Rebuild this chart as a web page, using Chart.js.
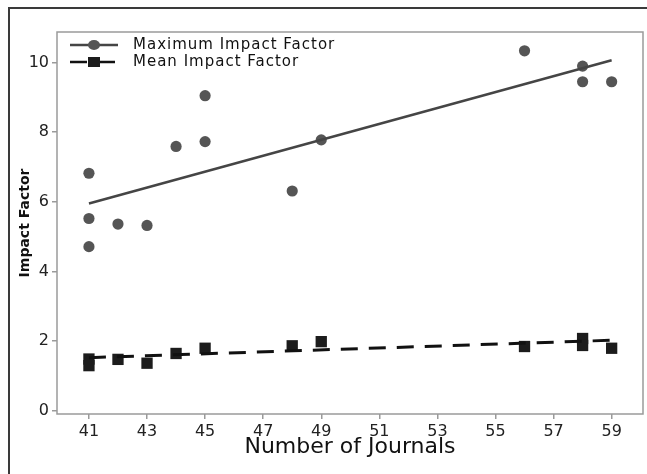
<!DOCTYPE html>
<html>
<head>
<meta charset="utf-8">
<script src="https://cdn.jsdelivr.net/npm/chart.js@4.4.1/dist/chart.umd.min.js"></script>
<style>
    html, body { margin: 0; padding: 0; background: #fff; overflow: hidden; }
    #wrap { position: relative; width: 647px; height: 474px; overflow: hidden; }
    #frame { position: absolute; left: 8px; top: 7px; right: 0; bottom: 0; border-top: 2px solid #3a3a3a; border-left: 2px solid #3a3a3a; pointer-events: none; }
    canvas { position: absolute; left: 0; top: 0; }
</style>
</head>
<body>
<div id="wrap">
    <canvas id="chart" width="652" height="474"></canvas>
    <div id="frame"></div>
</div>
<script>
// Number of journals vs impact factor
const maxX = [41, 41, 41, 42, 43, 44, 45, 45, 48, 49, 56, 58, 58, 59];
const maxY = [6.82, 5.52, 4.71, 5.36, 5.32, 7.59, 9.05, 7.73, 6.31, 7.78, 10.34, 9.9, 9.45, 9.45];
const meanX = [41, 41, 42, 43, 44, 45, 48, 49, 56, 58, 58, 59];
const meanY = [1.48, 1.29, 1.47, 1.36, 1.64, 1.79, 1.86, 1.98, 1.84, 2.07, 1.87, 1.79];
// fitted lines
const fitX = [41, 59];
const maxFitY = [5.95, 10.07];
const meanFitY = [1.52, 2.02];
const xTicks = [41, 43, 45, 47, 49, 51, 53, 55, 57, 59];
const yTicks = [0, 2, 4, 6, 8, 10];
const seriesNames = ['Maximum Impact Factor', 'Mean Impact Factor'];

const font = 'DejaVu Sans';
const toPoints = (xs, ys) => xs.map((x, i) => ({ x: x, y: ys[i] }));

const boxPlugin = {
    id: 'box',
    afterDraw(chart) {
        const { ctx, chartArea: a } = chart;
        ctx.save();
        ctx.strokeStyle = '#9a9a9a';
        ctx.lineWidth = 1.5;
        ctx.strokeRect(a.left, a.top, a.right - a.left, a.bottom - a.top);
        ctx.restore();
    },
};

const legendPlugin = {
    id: 'insideLegend',
    afterDraw(chart) {
        const { ctx, chartArea: a } = chart;
        const items = [
            { name: seriesNames[0], dash: [], color: '#454545', marker: 'circle', fill: '#555' },
            { name: seriesNames[1], dash: [17, 11], color: '#111', marker: 'rect', fill: '#1c1c1c' },
        ];
        ctx.save();
        items.forEach((it, i) => {
            const y = a.top + 13 + i * 17;
            const x0 = a.left + 13;
            ctx.strokeStyle = it.color;
            ctx.lineWidth = 2.5;
            ctx.setLineDash(it.dash);
            ctx.beginPath();
            ctx.moveTo(x0, y);
            ctx.lineTo(x0 + 48, y);
            ctx.stroke();
            ctx.setLineDash([]);
            ctx.fillStyle = it.fill;
            if (it.marker === 'circle') {
                ctx.beginPath();
                ctx.ellipse(x0 + 24, y, 6, 5, 0, 0, Math.PI * 2);
                ctx.fill();
            } else {
                ctx.fillRect(x0 + 18, y - 5, 12, 10);
            }
            ctx.fillStyle = '#111';
            ctx.font = `15px "${font}"`;
            ctx.letterSpacing = '1px';
            ctx.textBaseline = 'middle';
            ctx.fillText(it.name, x0 + 63, y);
        });
        ctx.restore();
    },
};

new Chart(document.getElementById('chart'), {
    type: 'scatter',
    data: {
        datasets: [
            {
                label: seriesNames[0] + ' fit',
                type: 'line',
                data: toPoints(fitX, maxFitY),
                borderColor: '#454545',
                borderWidth: 2.5,
                pointRadius: 0,
                fill: false,
            },
            {
                label: seriesNames[1] + ' fit',
                type: 'line',
                data: toPoints(fitX, meanFitY),
                borderColor: '#111',
                borderWidth: 3,
                borderDash: [17, 11],
                pointRadius: 0,
                fill: false,
            },
            {
                label: seriesNames[0],
                data: toPoints(maxX, maxY),
                pointStyle: 'circle',
                pointRadius: 5.6,
                backgroundColor: '#555',
                borderWidth: 0,
            },
            {
                label: seriesNames[1],
                data: toPoints(meanX, meanY),
                pointStyle: 'rect',
                pointRadius: 8,
                backgroundColor: '#1c1c1c',
                borderWidth: 0,
            },
        ],
    },
    options: {
        animation: false,
        responsive: false,
        // canvas is 5px wider than the window; 9px right padding puts the plot edge at 643
        layout: { padding: { left: 0, right: 9, top: 32, bottom: 0 } },
        plugins: {
            legend: { display: false },
            tooltip: { enabled: false },
        },
        scales: {
            x: {
                type: 'linear',
                min: 39.9,
                max: 60.08,
                afterBuildTicks: (scale) => {
                    scale.ticks = xTicks.map((v) => ({ value: v }));
                },
                afterFit: (scale) => {
                    scale.height = 60;
                },
                grid: { display: true, drawOnChartArea: false, drawTicks: true, tickLength: 5, color: '#9a9a9a', lineWidth: 1.5 },
                border: { display: false },
                ticks: { color: '#222', font: { family: font, size: 16 }, padding: 3 },
                title: {
                    display: true,
                    text: 'Number of Journals',
                    color: '#111',
                    font: { family: font, size: 22 },
                    padding: { top: 0, bottom: 14 },
                },
            },
            y: {
                min: -0.1,
                max: 10.88,
                afterBuildTicks: (scale) => {
                    scale.ticks = yTicks.map((v) => ({ value: v }));
                },
                afterFit: (scale) => {
                    scale.width = 57;
                },
                grid: { display: true, drawOnChartArea: false, drawTicks: true, tickLength: 5, color: '#9a9a9a', lineWidth: 1.5 },
                border: { display: false },
                ticks: { color: '#222', font: { family: font, size: 16 }, padding: 3 },
                title: {
                    display: true,
                    text: 'Impact Factor',
                    color: '#111',
                    font: { family: font, size: 14, weight: 'bold' },
                    padding: { top: 17, bottom: 0 },
                },
            },
        },
    },
    plugins: [boxPlugin, legendPlugin],
});
</script>
</body>
</html>
